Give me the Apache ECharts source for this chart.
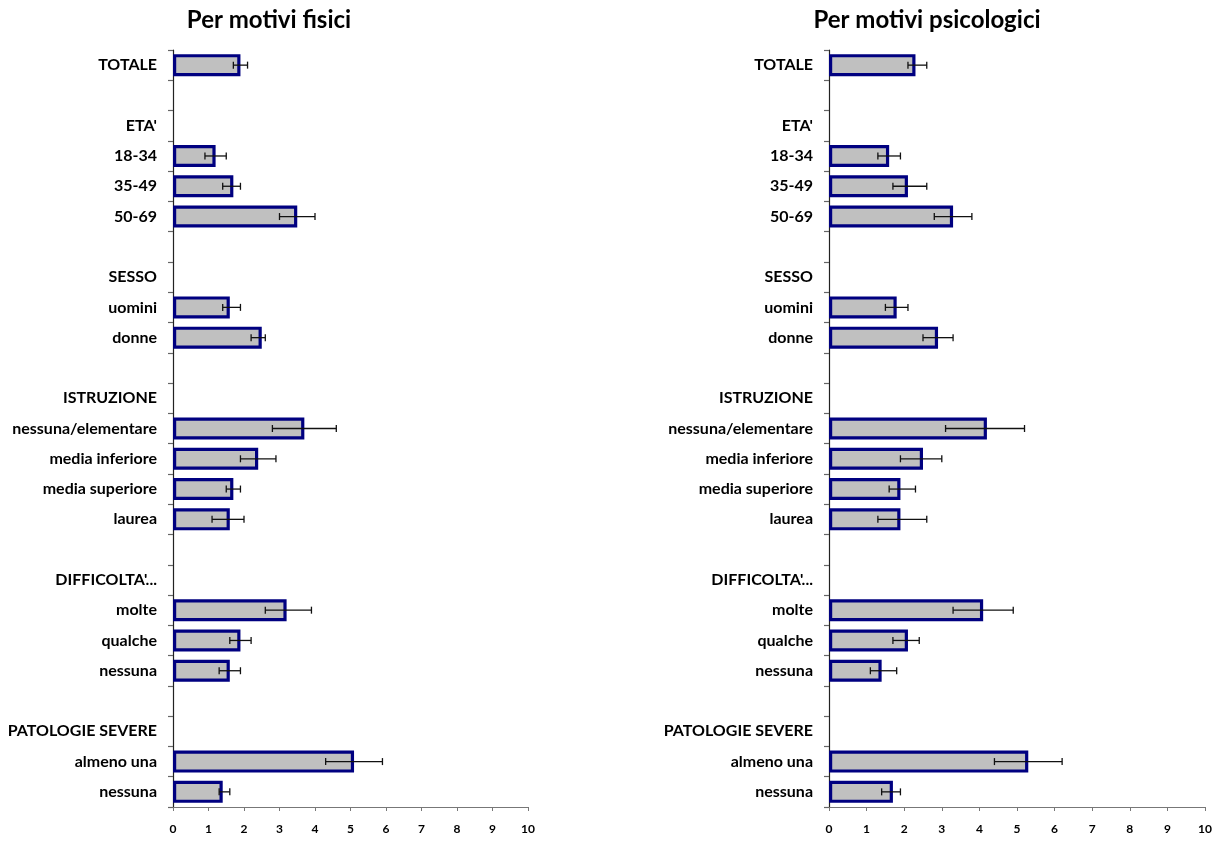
<!DOCTYPE html>
<html>
<head>
<meta charset="utf-8">
<script src="https://cdn.jsdelivr.net/npm/echarts@6/dist/echarts.min.js"></script>
<style>
  html, body { margin: 0; padding: 0; background: #fff; }
  #chart { width: 1223px; height: 841px; }
</style>
</head>
<body>
<div id="chart"></div>
<script>
// Row labels, top to bottom; empty strings are spacer rows between groups
const categories = ['TOTALE', '', "ETA'", '18-34', '35-49', '50-69', '', 'SESSO', 'uomini', 'donne', '',
  'ISTRUZIONE', 'nessuna/elementare', 'media inferiore', 'media superiore', 'laurea', '',
  "DIFFICOLTA'...", 'molte', 'qualche', 'nessuna', '', 'PATOLOGIE SEVERE', 'almeno una', 'nessuna'];

// Per motivi fisici: estimate and confidence interval
const fisiciValues = [1.9, null, null, 1.2, 1.7, 3.5, null, null, 1.6, 2.5, null, null, 3.7, 2.4, 1.7, 1.6, null, null, 3.2, 1.9, 1.6, null, null, 5.1, 1.4];
const fisiciLow    = [1.7, null, null, 0.9, 1.4, 3.0, null, null, 1.4, 2.2, null, null, 2.8, 1.9, 1.5, 1.1, null, null, 2.6, 1.6, 1.3, null, null, 4.3, 1.3];
const fisiciHigh   = [2.1, null, null, 1.5, 1.9, 4.0, null, null, 1.9, 2.6, null, null, 4.6, 2.9, 1.9, 2.0, null, null, 3.9, 2.2, 1.9, null, null, 5.9, 1.6];

// Per motivi psicologici: estimate and confidence interval
const psicoValues = [2.3, null, null, 1.6, 2.1, 3.3, null, null, 1.8, 2.9, null, null, 4.2, 2.5, 1.9, 1.9, null, null, 4.1, 2.1, 1.4, null, null, 5.3, 1.7];
const psicoLow    = [2.1, null, null, 1.3, 1.7, 2.8, null, null, 1.5, 2.5, null, null, 3.1, 1.9, 1.6, 1.3, null, null, 3.3, 1.7, 1.1, null, null, 4.4, 1.4];
const psicoHigh   = [2.6, null, null, 1.9, 2.6, 3.8, null, null, 2.1, 3.3, null, null, 5.2, 3.0, 2.3, 2.6, null, null, 4.9, 2.4, 1.8, null, null, 6.2, 1.9];

const xTicks = { min: 0, max: 10, interval: 1 };
const FONT = 'Lato, "Open Sans", sans-serif';

function intervalData(low, high) {
  const out = [];
  low.forEach((l, i) => { if (l != null && high[i] != null) out.push([i, l, high[i]]); });
  return out;
}

function errorBarRender(params, api) {
  const idx = api.value(0);
  const p1 = api.coord([api.value(1), idx]);
  const p2 = api.coord([api.value(2), idx]);
  const cap = 3.5;
  const style = { stroke: '#111', lineWidth: 1.3 };
  return {
    type: 'group',
    children: [
      { type: 'line', shape: { x1: p1[0], y1: p1[1], x2: p2[0], y2: p2[1] }, style },
      { type: 'line', shape: { x1: p1[0], y1: p1[1] - cap, x2: p1[0], y2: p1[1] + cap }, style },
      { type: 'line', shape: { x1: p2[0], y1: p2[1] - cap, x2: p2[0], y2: p2[1] + cap }, style }
    ]
  };
}

function xAxis(gridIndex) {
  return {
    type: 'value', gridIndex, min: xTicks.min, max: xTicks.max, interval: xTicks.interval,
    splitLine: { show: false },
    axisLine: { show: true, lineStyle: { color: '#777', width: 1.2 } },
    axisTick: { show: true, length: 4, lineStyle: { color: '#777' } },
    axisLabel: { color: '#000', fontWeight: 'bold', fontSize: 12, fontFamily: FONT, margin: 16 }
  };
}

function yAxis(gridIndex) {
  return {
    type: 'category', gridIndex, data: categories, inverse: true,
    axisLine: { show: true, lineStyle: { color: '#222', width: 1.2 } },
    axisTick: { show: true, length: 5, lineStyle: { color: '#666', width: 1.2 } },
    axisLabel: { color: '#000', fontWeight: 'bold', fontSize: 16, fontFamily: FONT, margin: 16 }
  };
}

function barSeries(idx, values) {
  return {
    type: 'bar', xAxisIndex: idx, yAxisIndex: idx, data: values, barWidth: 22,
    itemStyle: { color: '#c0c0c0', borderColor: '#000080', borderWidth: 3.2 },
    silent: true, animation: false
  };
}

function errSeries(idx, low, high) {
  return {
    type: 'custom', xAxisIndex: idx, yAxisIndex: idx, data: intervalData(low, high),
    renderItem: errorBarRender, encode: { x: [1, 2], y: 0 }, z: 5, silent: true, animation: false
  };
}

const chart = echarts.init(document.getElementById('chart'), null, { renderer: 'canvas' });
chart.setOption({
  backgroundColor: '#fff',
  animation: false,
  title: [
    { text: 'Per motivi fisici', left: 264, top: 3, textAlign: 'center',
      textStyle: { fontSize: 24, fontWeight: 'bold', color: '#000', fontFamily: FONT } },
    { text: 'Per motivi psicologici', left: 922, top: 3, textAlign: 'center',
      textStyle: { fontSize: 24, fontWeight: 'bold', color: '#000', fontFamily: FONT } }
  ],
  grid: [
    { left: 173, right: 695, top: 50, bottom: 34 },
    { left: 829, right: 18, top: 50, bottom: 34 }
  ],
  xAxis: [xAxis(0), xAxis(1)],
  yAxis: [yAxis(0), yAxis(1)],
  series: [
    barSeries(0, fisiciValues),
    errSeries(0, fisiciLow, fisiciHigh),
    barSeries(1, psicoValues),
    errSeries(1, psicoLow, psicoHigh)
  ]
});
</script>
</body>
</html>
